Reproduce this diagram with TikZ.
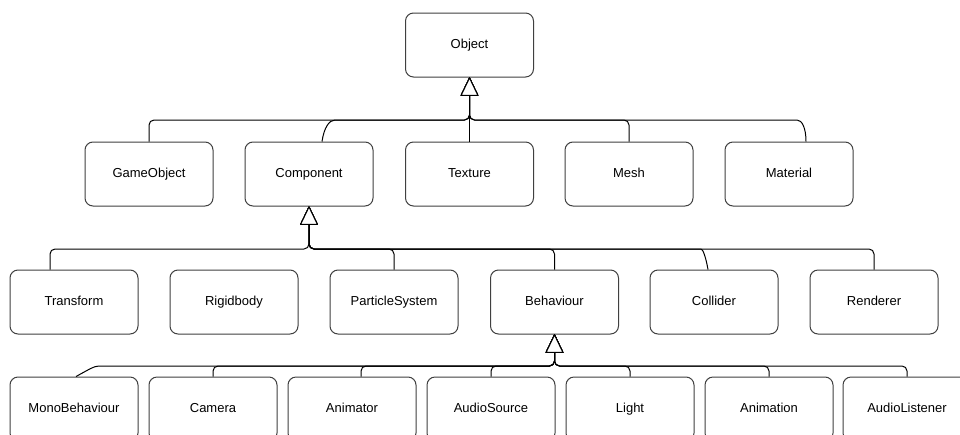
\documentclass[tikz,border=0pt]{standalone}
\usepackage{fontspec}
\setmainfont{Liberation Sans}
\usetikzlibrary{arrows.meta}

\tikzset{
  cls/.style={draw=black!75,line width=1pt,rounded corners=8pt,minimum width=128pt,minimum height=64pt,inner sep=0pt,text height=9.4pt,text depth=2.6pt,font=\fontsize{13}{15}\selectfont},
  inherit/.style={draw,line width=1pt,rounded corners=5pt,-{Triangle[width=18pt,length=19pt,fill=white,round]}}
}

\begin{document}
\begin{tikzpicture}[x=1pt,y=-1pt]
\useasboundingbox (0,0) rectangle (960,434);
\clip (0,0) rectangle (960,434);
\fill[white] (0,0) rectangle (960,434);

\node[cls] (obj) at (469.5,45) {Object};

\node[cls] (go) at (149,174) {GameObject};
\node[cls] (comp) at (309,174) {Component};
\node[cls] (tex) at (469.5,174) {Texture};
\node[cls] (mesh) at (629,174) {Mesh};
\node[cls] (mat) at (789,174) {Material};

\node[cls] (tr) at (74,302) {Transform};
\node[cls] (rb) at (234,302) {Rigidbody};
\node[cls] (ps) at (394,302) {ParticleSystem};
\node[cls] (beh) at (554.5,302) {Behaviour};
\node[cls] (col) at (714,302) {Collider};
\node[cls] (ren) at (874,302) {Renderer};

\node[cls] (mono) at (74,409) {MonoBehaviour};
\node[cls] (cam) at (213,409) {Camera};
\node[cls] (anim) at (352,409) {Animator};
\node[cls] (asrc) at (491,409) {AudioSource};
\node[cls] (light) at (630,409) {Light};
\node[cls] (animn) at (769,409) {Animation};
\node[cls] (alis) at (907,409) {AudioListener};

\coordinate (bus1) at (469.5,120);
\coordinate (bus2) at (309,249);
\coordinate (bus3) at (554.5,366);

% Object
\draw[inherit] (go.north) |- (bus1) -- (obj.south);
\draw[inherit] ([xshift=13pt]comp.north) .. controls (324,128) and (329,120) .. (340,120) -| (obj.south);
\draw[inherit] (tex.north) -- (obj.south);
\draw[inherit] (mesh.north) |- (bus1) -- (obj.south);
\draw[inherit] ([xshift=17pt]mat.north) .. controls (806,128) and (802,120) .. (792,120) -| (obj.south);

% Component
\draw[inherit] ([xshift=-24pt]tr.north) |- (bus2) -- (comp.south);
\draw[inherit] (ps.north) |- (bus2) -- (comp.south);
\draw[inherit] (beh.north) |- (bus2) -- (comp.south);
\draw[inherit] ([xshift=-6pt]col.north) .. controls (706,258) and (703,249) .. (696,249) -| (comp.south);
\draw[inherit] (ren.north) |- (bus2) -- (comp.south);

% Behaviour
\draw[inherit] ([xshift=2pt]mono.north) .. controls (88,370) and (94,366) .. (104,366) -| (beh.south);
\draw[inherit] (cam.north) |- (bus3) -- (beh.south);
\draw[inherit] ([xshift=9pt]anim.north) |- (bus3) -- (beh.south);
\draw[inherit] (asrc.north) |- (bus3) -- (beh.south);
\draw[inherit] (light.north) |- (bus3) -- (beh.south);
\draw[inherit] (animn.north) |- (bus3) -- (beh.south);
\draw[inherit] (alis.north) |- (bus3) -- (beh.south);
\end{tikzpicture}
\end{document}
